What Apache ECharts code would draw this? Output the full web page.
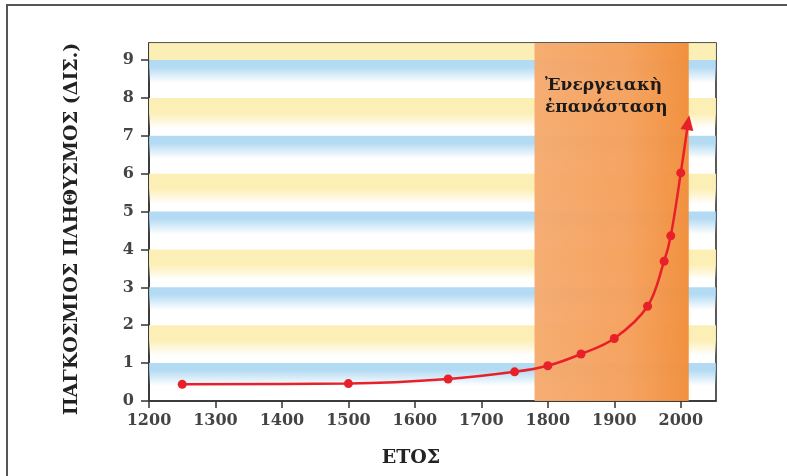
<!DOCTYPE html>
<html><head><meta charset="utf-8">
<script src="https://cdn.jsdelivr.net/npm/echarts@6/dist/echarts.min.js"></script>
<style>html,body{margin:0;padding:0;background:#fff}#c{width:787px;height:476px}</style>
</head><body><div id="c"></div>
<script>
const years = [1250, 1500, 1650, 1750, 1800, 1850, 1900, 1950, 1975, 1985, 2000];
const population = [0.44, 0.46, 0.58, 0.77, 0.93, 1.24, 1.65, 2.5, 3.69, 4.36, 6.02];
const arrowEnd = [2011, 7.35];
const xTicks = [1200, 1300, 1400, 1500, 1600, 1700, 1800, 1900, 2000];
const yTicks = [0, 1, 2, 3, 4, 5, 6, 7, 8, 9];
const revolutionSpan = [1780, 2012];
const blueStripes = [9, 7, 5, 3, 1];
const yellowStripes = [9.45, 8, 6, 4, 2];
const xTitle = 'ΕΤΟΣ';
const yTitle = 'ΠΑΓΚΟΣΜΙΟΣ ΠΛΗΘΥΣΜΟΣ (ΔΙΣ.)';
const annotation = 'Ἐνεργειακὴ\nἐπανάσταση';

const serif = 'DejaVu Serif';
function vgrad(c1, c2, solid) {
  return {type: 'linear', x: 0, y: 0, x2: 0, y2: 1, colorStops: [
    {offset: 0, color: c1}, {offset: solid, color: c1}, {offset: 1, color: c2}]};
}
const stripeAreas = [];
blueStripes.forEach(v => stripeAreas.push([
  {yAxis: v, itemStyle: {color: vgrad('rgba(165,212,240,0.85)', 'rgba(165,212,240,0)', 0.3)}},
  {yAxis: v - 0.6}
]));
yellowStripes.forEach(v => {
  const top = v > 9;
  stripeAreas.push([
    {yAxis: v, itemStyle: {color: top ? 'rgba(252,238,178,0.95)' : vgrad('rgba(252,238,178,0.95)', 'rgba(252,238,178,0)', 0.5)}},
    {yAxis: top ? 9 : v - 0.8}
  ]);
});

const lineData = years.map((y, i) => [y, population[i]]);
lineData.push({value: arrowEnd, symbol: 'triangle', symbolSize: [13, 15], symbolRotate: -9});

const chart = echarts.init(document.getElementById('c'));
chart.setOption({
  animation: false,
  backgroundColor: '#fff',
  grid: {left: 149, top: 43, right: 71, bottom: 75, show: true, borderColor: '#222', borderWidth: 1.5, backgroundColor: 'transparent'},
  xAxis: {
    type: 'value', min: 1200, max: 2053, interval: 100,
    axisLine: {lineStyle: {color: '#333', width: 1.5}},
    axisTick: {length: 7, lineStyle: {color: '#333', width: 1.5}, customValues: xTicks},
    axisLabel: {customValues: xTicks, formatter: v => String(v), fontFamily: serif, fontWeight: 'bold', fontSize: 16, color: '#444', margin: 12},
    splitLine: {show: false}
  },
  yAxis: {
    type: 'value', min: 0, max: 9.45, interval: 1,
    axisLine: {lineStyle: {color: '#333', width: 1.5}},
    axisTick: {length: 8, lineStyle: {color: '#333', width: 1.5}, customValues: yTicks},
    axisLabel: {customValues: yTicks, formatter: v => String(v), fontFamily: serif, fontWeight: 'bold', fontSize: 16, color: '#444', margin: 15},
    splitLine: {show: false}
  },
  series: [
    {
      type: 'line', data: [], silent: true,
      markArea: {silent: true, data: stripeAreas, label: {show: false}}
    },
    {
      type: 'line', data: [], silent: true,
      markArea: {silent: true, label: {show: false}, data: [[
        {xAxis: revolutionSpan[0], itemStyle: {color: {type: 'linear', x: 0, y: 0, x2: 1, y2: 0, colorStops: [
          {offset: 0, color: 'rgba(245,170,110,0.96)'},
          {offset: 0.6, color: 'rgba(245,160,92,0.96)'},
          {offset: 1, color: 'rgba(241,142,58,0.97)'}]}}},
        {xAxis: revolutionSpan[1]}
      ]]}
    },
    {
      type: 'line', data: lineData, smooth: 0.35,
      symbol: 'circle', symbolSize: 9,
      lineStyle: {color: '#e8202a', width: 2.5},
      itemStyle: {color: '#e8202a'},
      z: 5
    }
  ],
  graphic: [
    {type: 'rect', shape: {x: 7, y: 5, width: 820, height: 520}, style: {fill: 'none', stroke: '#555', lineWidth: 2}, z: 100},
    {type: 'text', x: 72, y: 229, rotation: Math.PI / 2, style: {text: yTitle, fontFamily: serif, fontWeight: 'bold', fontSize: 19, fill: '#222', align: 'center', verticalAlign: 'middle'}, z: 100},
    {type: 'text', x: 411, y: 458, style: {text: xTitle, fontFamily: serif, fontWeight: 'bold', fontSize: 19, fill: '#222', align: 'center', verticalAlign: 'middle'}, z: 100},
    {type: 'text', x: 545, y: 75, style: {text: annotation, fontFamily: serif, fontWeight: 'bold', fontSize: 17, lineHeight: 22, fill: '#1a1a1a', align: 'left', verticalAlign: 'top'}, z: 100}
  ]
});
</script></body></html>
